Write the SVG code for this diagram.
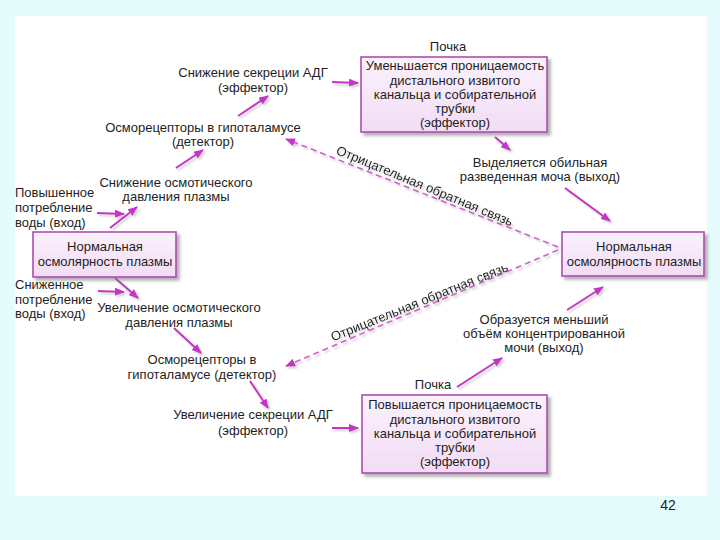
<svg xmlns="http://www.w3.org/2000/svg" width="720" height="540" viewBox="0 0 720 540">
<defs>
<style>
text{font-family:"Liberation Sans",Arial,sans-serif;font-size:13px;fill:#1e1e1e}
.c{text-anchor:middle}
.box{fill:url(#bg);stroke:#b04cb0;stroke-width:1.6}
.arr{stroke:#c534c5;stroke-width:2;fill:none;marker-end:url(#ah)}
.dash{stroke:#d060d0;stroke-width:1.6;fill:none;stroke-dasharray:6 4;marker-end:url(#ah)}
</style>
<linearGradient id="bg" x1="0" y1="0" x2="0" y2="1">
<stop offset="0" stop-color="#fbf2fc"/>
<stop offset="1" stop-color="#f2dcf5"/>
</linearGradient>
<filter id="sh" x="-10%" y="-10%" width="130%" height="130%">
<feDropShadow dx="3" dy="3" stdDeviation="1.5" flood-color="#808080" flood-opacity="0.6"/>
</filter>
<filter id="lsh" x="-20%" y="-20%" width="140%" height="140%">
<feDropShadow dx="2" dy="2" stdDeviation="1.2" flood-color="#909090" flood-opacity="0.45"/>
</filter>
<marker id="ah" markerUnits="userSpaceOnUse" markerWidth="10" markerHeight="8" refX="9" refY="4" orient="auto">
<path d="M0,0 L10,4 L0,8 z" fill="#c534c5"/>
</marker>
</defs>
<rect x="0" y="0" width="720" height="540" fill="#e6fcfc"/>
<rect x="15" y="16" width="692" height="480" fill="#ffffff"/>

<g id="connectors" filter="url(#lsh)">
<line class="arr" x1="332" y1="82" x2="358" y2="83"/>
<line class="arr" x1="238" y1="116" x2="268" y2="96"/>
<line class="arr" x1="176" y1="168" x2="203" y2="150"/>
<line class="arr" x1="110" y1="228" x2="137" y2="207"/>
<line class="arr" x1="97" y1="213" x2="124" y2="214"/>
<line class="arr" x1="495" y1="137" x2="510" y2="150"/>
<line class="arr" x1="565" y1="188" x2="610" y2="221"/>
<line class="arr" x1="98" y1="291" x2="124" y2="292"/>
<line class="arr" x1="115" y1="278" x2="138" y2="298"/>
<line class="arr" x1="174" y1="328" x2="201" y2="353"/>
<line class="arr" x1="250" y1="381" x2="268" y2="408"/>
<line class="arr" x1="332" y1="428" x2="358" y2="428"/>
<line class="arr" x1="457" y1="387" x2="502" y2="358"/>
<line class="arr" x1="567" y1="310" x2="603" y2="287"/>
<line class="dash" x1="558" y1="247" x2="286" y2="139"/>
<line class="dash" x1="558" y1="250" x2="286" y2="366"/>
<text class="c" transform="translate(423,190) rotate(22.5)">Отрицательная обратная связь</text>
<text class="c" transform="translate(421,306) rotate(-22)">Отрицательная обратная связь</text>
</g>

<g id="kidney-top">
<text class="c" x="448" y="51">Почка</text>
<rect class="box" x="361" y="57" width="186" height="75" filter="url(#sh)"/>
<text class="c" x="455" y="70">Уменьшается проницаемость</text>
<text class="c" x="455" y="85">дистального извитого</text>
<text class="c" x="455" y="99">канальца и собирательной</text>
<text class="c" x="455" y="113">трубки</text>
<text class="c" x="455" y="127">(эффектор)</text>
</g>

<g id="adh-decrease">
<text class="c" x="253" y="77">Снижение секреции АДГ</text>
<text class="c" x="253" y="92">(эффектор)</text>
</g>

<g id="osmo-top">
<text class="c" x="203" y="132">Осморецепторы в гипоталамусе</text>
<text class="c" x="203" y="146">(детектор)</text>
</g>

<g id="osm-decrease">
<text class="c" x="176" y="187">Снижение осмотического</text>
<text class="c" x="176" y="201">давления плазмы</text>
</g>

<g id="water-up">
<text x="15" y="197">Повышенное</text>
<text x="15" y="212">потребление</text>
<text x="15" y="227">воды (вход)</text>
</g>

<g id="urine-dilute">
<text class="c" x="540" y="167">Выделяется обильная</text>
<text class="c" x="540" y="181">разведенная моча (выход)</text>
</g>

<g id="norm-left">
<rect class="box" x="33" y="232" width="143" height="45" filter="url(#sh)"/>
<text class="c" x="105" y="251">Нормальная</text>
<text class="c" x="105" y="266">осмолярность плазмы</text>
</g>

<g id="norm-right">
<rect class="box" x="562" y="232" width="142" height="44" filter="url(#sh)"/>
<text class="c" x="634" y="251">Нормальная</text>
<text class="c" x="634" y="266">осмолярность плазмы</text>
</g>

<g id="water-down">
<text x="15" y="289">Сниженное</text>
<text x="15" y="304">потребление</text>
<text x="15" y="318">воды (вход)</text>
</g>

<g id="osm-increase">
<text class="c" x="179" y="312">Увеличение осмотического</text>
<text class="c" x="179" y="327">давления плазмы</text>
</g>

<g id="osmo-bottom">
<text class="c" x="202" y="364">Осморецепторы в</text>
<text class="c" x="202" y="379">гипоталамусе (детектор)</text>
</g>

<g id="adh-increase">
<text class="c" x="253" y="419">Увеличение секреции АДГ</text>
<text class="c" x="253" y="435">(эффектор)</text>
</g>

<g id="urine-conc">
<text class="c" x="544" y="324">Образуется меньший</text>
<text class="c" x="544" y="338">объём концентрированной</text>
<text class="c" x="544" y="352">мочи (выход)</text>
</g>

<g id="kidney-bottom">
<text class="c" x="433" y="389">Почка</text>
<rect class="box" x="362" y="395" width="185" height="78" filter="url(#sh)"/>
<text class="c" x="455" y="409">Повышается проницаемость</text>
<text class="c" x="455" y="424">дистального извитого</text>
<text class="c" x="455" y="438">канальца и собирательной</text>
<text class="c" x="455" y="452">трубки</text>
<text class="c" x="455" y="466">(эффектор)</text>
</g>

<text x="668" y="510" class="c" style="font-size:14px">42</text>
</svg>
